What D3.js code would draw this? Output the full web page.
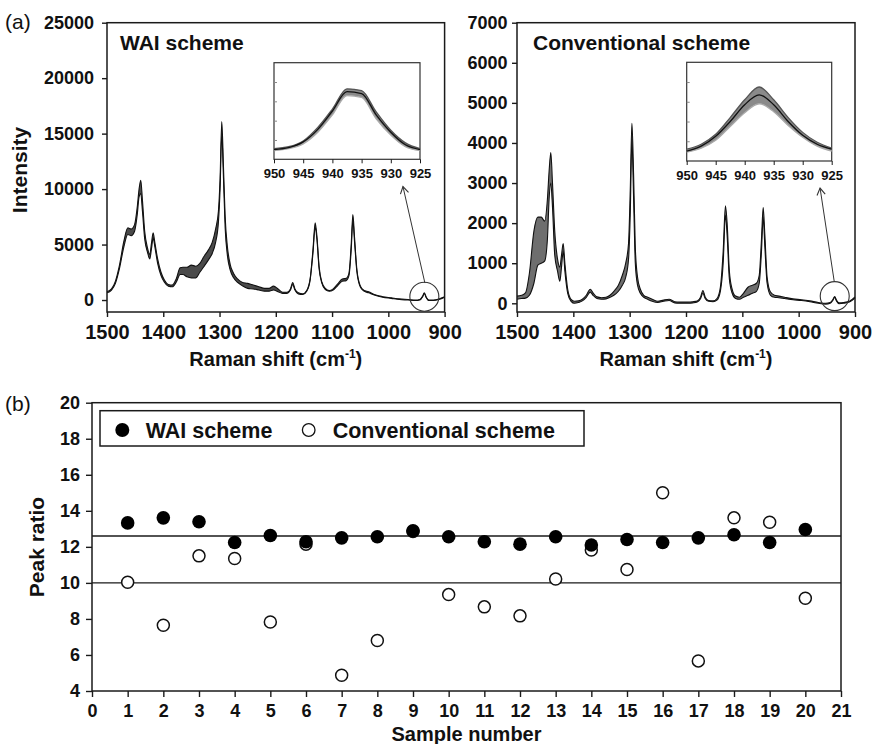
<!DOCTYPE html>
<html>
<head>
<meta charset="utf-8">
<script src="https://cdnjs.cloudflare.com/ajax/libs/d3/7.8.5/d3.min.js"></script>
<style>
  body { margin: 0; background: #fff; }
  svg text { font-family: "Liberation Sans", Arial, sans-serif; fill: #111; }
</style>
</head>
<body>
<script>
// Raman shift sample points (cm-1) shared by both spectrum panels
const shift = [
  1500,1492,1485,1478,1470,1463,1457,1451,1446,1443,
  1440,1437,1433,1428,1424,1421,1418,1415,1410,1404,
  1398,1391,1384,1377,1370,1365,1358,1350,1342,1335,
  1328,1320,1313,1307,1302,1299,1296,1293,1290,1286,
  1281,1275,1268,1260,1250,1240,1230,1220,1212,1204,
  1196,1188,1180,1174,1170,1166,1160,1152,1145,1139,
  1134,1130,1127,1123,1118,1112,1105,1098,1090,1082,
  1075,1070,1066,1063,1060,1056,1050,1043,1035,1025,
  1010,995,980,965,952,944,939,936,933,928,
  920,910,900
];

// WAI scheme: lower and upper edge of the bundle of spectra
const waiLow = [
  650,900,1500,2800,4800,5900,5800,6200,7800,9300,
  9600,8000,5500,4300,3700,4600,5600,4800,3300,2200,
  1600,1250,1200,1600,2300,2300,2100,2000,2000,2500,
  3000,3600,4200,5200,7000,10000,15000,11000,6500,4000,
  2700,2000,1600,1300,1050,1000,900,800,800,900,
  750,600,600,900,1400,900,550,500,800,1800,
  4200,6600,5500,2800,1500,950,800,900,1300,1700,
  1750,2200,4500,7200,5200,2600,1200,800,650,450,
  250,150,50,0,-50,0,300,600,250,-50,
  -50,50,250
];
const waiHigh = [
  750,1000,1700,3100,5300,6500,6400,6800,8500,10000,
  10800,9000,6200,4700,4100,5100,6050,5200,3700,2500,
  1800,1400,1350,1900,2900,2950,2950,3150,3050,3300,
  3900,4500,5200,6400,8000,11000,16100,12000,7500,4800,
  3200,2400,1900,1600,1500,1350,1200,1050,1050,1250,
  1000,700,700,1000,1580,1000,650,550,850,1900,
  4500,6950,5800,3000,1600,1050,850,1000,1450,1900,
  1950,2400,5000,7700,5600,2800,1300,850,750,500,
  300,200,100,50,0,50,350,650,300,0,
  0,100,300
];

// Conventional scheme: lower and upper edge of the bundle of spectra
const convLow = [
  100,120,130,200,500,950,1000,1050,1600,2600,
  3000,2400,1200,800,550,900,1300,800,250,50,
  0,20,60,150,280,200,120,100,110,150,
  200,300,450,650,1100,2200,4100,2600,1000,450,
  250,150,100,50,20,50,70,10,0,0,
  0,10,30,120,250,120,50,40,80,300,
  1000,2200,1700,600,250,120,100,150,200,250,
  300,500,1300,2150,1400,500,200,150,140,120,
  90,70,40,0,-20,0,80,150,60,-10,
  0,30,130
];
const convHigh = [
  180,200,260,750,1800,2150,2150,2050,2600,3300,
  3760,3000,1800,1100,900,1200,1490,1000,350,100,
  50,60,100,200,350,260,160,140,150,200,
  300,450,700,1000,1500,2800,4490,3200,1400,650,
  350,200,150,100,50,80,100,40,30,30,
  30,40,60,160,320,160,70,60,120,400,
  1300,2430,2000,800,350,180,150,250,400,450,
  500,700,1600,2390,1700,650,280,200,180,150,
  110,90,60,20,0,20,100,170,80,10,
  20,50,160
];

// insets: 950-925 cm-1 band (arbitrary units)
const insetShift = [950,947.5,945,942.5,940,937.5,935,932.5,930,927.5,925];
const waiInsetLow  = [9,11,16,28,46,66,64,42,25,13,9];
const waiInsetMid  = [10,12,18,31,50,70,68,46,28,15,10];
const waiInsetHigh = [11,13,19,33,52,73,71,49,30,17,11];
const convInsetLow  = [9,13,21,35,49,58,50,36,24,15,10];
const convInsetMid  = [10,15,25,40,57,67,57,40,26,17,12];
const convInsetHigh = [12,17,27,44,62,75,62,44,29,19,13];

const shiftTicks = [1500,1400,1300,1200,1100,1000,900];
const waiTicks = [0,5000,10000,15000,20000,25000];
const convTicks = [0,1000,2000,3000,4000,5000,6000,7000];
const insetTicks = [950,945,940,935,930,925];

// callouts: circled band and arrow (data coordinates of each panel)
const waiCallout = { at: [936, 300], from: [935, 1530], to: [974, 10230] };
const convCallout = { at: [936, 180], from: [937, 556], to: [962, 2875] };

// (b) peak ratios
const samples = [1,2,3,4,5,6,7,8,9,10,11,12,13,14,15,16,17,18,19,20];
const waiRatio = [13.33,13.61,13.39,12.24,12.63,12.28,12.5,12.56,12.89,12.56,
                  12.28,12.15,12.56,12.1,12.41,12.24,12.5,12.67,12.24,12.96];
const convRatio = [10.04,7.65,11.5,11.35,7.83,12.15,4.87,6.8,12.85,9.35,
                   8.67,8.17,10.22,11.82,10.74,15.0,5.67,13.61,13.37,9.15];
const refLines = [12.6, 10];
const sampleTicks = [0,1,2,3,4,5,6,7,8,9,10,11,12,13,14,15,16,17,18,19,20,21];
const ratioTicks = [4,6,8,10,12,14,16,18,20];

const svg = d3.select('body').append('svg')
  .attr('width', 872)
  .attr('height', 744);

const ink = '#1a1a1a';
const fmt = d3.format('d');

function frame(x, y) {
  const [x0, x1] = x.range();
  const [y0, y1] = y.range();
  svg.append('rect')
    .attr('x', Math.min(x0, x1)).attr('y', Math.min(y0, y1))
    .attr('width', Math.abs(x1 - x0)).attr('height', Math.abs(y1 - y0))
    .attr('fill', 'none').attr('stroke', ink).attr('stroke-width', 1.5);
}

function styleAxis(g, size) {
  g.select('.domain').remove();
  g.selectAll('.tick line').attr('stroke', ink).attr('stroke-width', 1.4);
  g.selectAll('.tick text')
    .style('font-size', size + 'px').style('font-weight', 'bold').attr('fill', '#111');
  return g;
}

function spectra(x, y, lo, hi, fill) {
  const rows = shift.map((w, i) => ({ w: w, lo: lo[i], hi: hi[i] }));
  svg.append('path').datum(rows)
    .attr('d', d3.area().x(d => x(d.w)).y0(d => y(d.lo)).y1(d => y(d.hi)).curve(d3.curveMonotoneX))
    .attr('fill', fill);
  ['lo', 'hi'].forEach(k => {
    svg.append('path').datum(rows)
      .attr('d', d3.line().x(d => x(d.w)).y(d => y(d[k])).curve(d3.curveMonotoneX))
      .attr('fill', 'none').attr('stroke', '#111').attr('stroke-width', 1.1);
  });
}

function inset(box, lo, mid, hi) {
  const x = d3.scaleLinear().domain([950, 925]).range([box[0], box[1]]);
  const y = d3.scaleLinear().domain([0, 100]).range([box[3], box[2]]);
  svg.append('rect')
    .attr('x', box[0]).attr('y', box[2])
    .attr('width', box[1] - box[0]).attr('height', box[3] - box[2])
    .attr('fill', '#fff').attr('stroke', '#333').attr('stroke-width', 1.2);
  const rows = insetShift.map((w, i) => ({ w: w, lo: lo[i], mid: mid[i], hi: hi[i] }));
  svg.append('path').datum(rows)
    .attr('d', d3.area().x(d => x(d.w)).y0(d => y(d.lo)).y1(d => y(d.hi)).curve(d3.curveMonotoneX))
    .attr('fill', '#8a8a8a');
  [['lo', '#aaa'], ['hi', '#555'], ['mid', '#111']].forEach(([k, c]) => {
    svg.append('path').datum(rows)
      .attr('d', d3.line().x(d => x(d.w)).y(d => y(d[k])).curve(d3.curveMonotoneX))
      .attr('fill', 'none').attr('stroke', c).attr('stroke-width', 1.3);
  });
  const ax = svg.append('g').attr('transform', `translate(0,${box[3]})`)
    .call(d3.axisBottom(x).tickValues(insetTicks).tickSize(4).tickFormat(fmt));
  styleAxis(ax, 13);
  ax.selectAll('.tick line').attr('stroke-width', 1);
  ax.selectAll('.tick text').attr('dy', 0).attr('y', 19);
  const ay = svg.append('g').attr('transform', `translate(${box[0]},0)`)
    .call(d3.axisRight(y).tickValues([20, 40, 60, 80]).tickSize(3).tickFormat(''));
  ay.select('.domain').remove();
  ay.selectAll('.tick line').attr('stroke', '#888');
}

function callout(x, y, c) {
  svg.append('circle')
    .attr('cx', x(c.at[0])).attr('cy', y(c.at[1])).attr('r', 14.5)
    .attr('fill', 'none').attr('stroke', '#333').attr('stroke-width', 1.1);
  const x1 = x(c.from[0]), y1 = y(c.from[1]), x2 = x(c.to[0]), y2 = y(c.to[1]);
  svg.append('line')
    .attr('x1', x1).attr('y1', y1).attr('x2', x2).attr('y2', y2)
    .attr('stroke', '#333').attr('stroke-width', 1);
  const a = Math.atan2(y2 - y1, x2 - x1);
  const head = [a + 2.6, a - 2.6].map(t => [x2 + 8 * Math.cos(t), y2 + 8 * Math.sin(t)]);
  svg.append('path')
    .attr('d', `M${head[0]}L${x2},${y2}L${head[1]}`)
    .attr('fill', 'none').attr('stroke', '#333').attr('stroke-width', 1.1);
}

function ramanTitle(cx) {
  const t = svg.append('text').attr('x', cx).attr('y', 366)
    .attr('text-anchor', 'middle').style('font-size', '20px').style('font-weight', 'bold');
  t.append('tspan').text('Raman shift (cm');
  t.append('tspan').attr('dy', -8).style('font-size', '12px').text('-1');
  t.append('tspan').attr('dy', 8).text(')');
}

// ---- (a) left: WAI scheme
const xL = d3.scaleLinear().domain([1500, 900]).range([107, 444.6]);
const yL = d3.scaleLinear().domain([-1080, 25000]).range([312, 22.7]);
spectra(xL, yL, waiLow, waiHigh, '#4a4a4a');
frame(xL, yL);
const axL = styleAxis(svg.append('g').attr('transform', 'translate(0,312)')
  .call(d3.axisBottom(xL).tickValues(shiftTicks).tickSize(5).tickFormat(fmt)), 20);
axL.selectAll('.tick text').attr('dy', 0).attr('y', 27);
styleAxis(svg.append('g').attr('transform', 'translate(107,0)')
  .call(d3.axisLeft(yL).tickValues(waiTicks).tickSize(5).tickPadding(8).tickFormat(fmt)), 18);
inset([274, 420, 62.7, 159.3], waiInsetLow, waiInsetMid, waiInsetHigh);
callout(xL, yL, waiCallout);

svg.append('text').attr('x', 120).attr('y', 50)
  .style('font-size', '21px').style('font-weight', 'bold').text('WAI scheme');
svg.append('text').attr('x', 5).attr('y', 29).style('font-size', '21px').text('(a)');
svg.append('text').attr('transform', 'translate(27,170) rotate(-90)')
  .attr('text-anchor', 'middle').style('font-size', '21px').style('font-weight', 'bold').text('Intensity');
ramanTitle(275.8);

// ---- (a) right: conventional scheme
const xR = d3.scaleLinear().domain([1500, 900]).range([517, 855]);
const yR = d3.scaleLinear().domain([-217, 7000]).range([312, 22.7]);
spectra(xR, yR, convLow, convHigh, '#6e6e6e');
frame(xR, yR);
const axR = styleAxis(svg.append('g').attr('transform', 'translate(0,312)')
  .call(d3.axisBottom(xR).tickValues(shiftTicks).tickSize(5).tickFormat(fmt)), 20);
axR.selectAll('.tick text').attr('dy', 0).attr('y', 27);
styleAxis(svg.append('g').attr('transform', 'translate(517,0)')
  .call(d3.axisLeft(yR).tickValues(convTicks).tickSize(5).tickPadding(4.5).tickFormat(fmt)), 18);
inset([686.7, 831.7, 62.3, 161], convInsetLow, convInsetMid, convInsetHigh);
callout(xR, yR, convCallout);

svg.append('text').attr('x', 533).attr('y', 50)
  .style('font-size', '21px').style('font-weight', 'bold').text('Conventional scheme');
ramanTitle(686);

// ---- (b) peak ratio
const xB = d3.scaleLinear().domain([0, 21]).range([92, 841]);
const yB = d3.scaleLinear().domain([4, 20]).range([691, 402.7]);
frame(xB, yB);
svg.selectAll('.ref').data(refLines).enter().append('line')
  .attr('x1', xB(0)).attr('x2', xB(21))
  .attr('y1', d => yB(d)).attr('y2', d => yB(d))
  .attr('stroke', ink).attr('stroke-width', 1.4);

const axB = styleAxis(svg.append('g').attr('transform', 'translate(0,691)')
  .call(d3.axisBottom(xB).tickValues(sampleTicks).tickSize(6).tickFormat(fmt)), 18);
axB.selectAll('.tick text').attr('dy', 0).attr('y', 26);
styleAxis(svg.append('g').attr('transform', 'translate(92,0)')
  .call(d3.axisLeft(yB).tickValues(ratioTicks).tickSize(6).tickPadding(6).tickFormat(fmt)), 18);

svg.selectAll('.conv').data(samples).enter().append('circle')
  .attr('cx', d => xB(d)).attr('cy', (d, i) => yB(convRatio[i])).attr('r', 6)
  .attr('fill', '#fff').attr('stroke', '#111').attr('stroke-width', 1.5);
svg.selectAll('.wai').data(samples).enter().append('circle')
  .attr('cx', d => xB(d)).attr('cy', (d, i) => yB(waiRatio[i])).attr('r', 6.8)
  .attr('fill', '#000');

// legend
svg.append('rect').attr('x', 100).attr('y', 410.7).attr('width', 484).attr('height', 35.3)
  .attr('fill', '#fff').attr('stroke', ink).attr('stroke-width', 1.5);
svg.append('circle').attr('cx', 122.3).attr('cy', 430).attr('r', 7).attr('fill', '#000');
svg.append('text').attr('x', 145.7).attr('y', 438)
  .style('font-size', '21.5px').style('font-weight', 'bold').text('WAI scheme');
svg.append('circle').attr('cx', 308.7).attr('cy', 430).attr('r', 6.3)
  .attr('fill', '#fff').attr('stroke', '#111').attr('stroke-width', 1.3);
svg.append('text').attr('x', 332.7).attr('y', 438)
  .style('font-size', '21.5px').style('font-weight', 'bold').text('Conventional scheme');

svg.append('text').attr('x', 5).attr('y', 411).style('font-size', '21px').text('(b)');
svg.append('text').attr('transform', 'translate(44,547) rotate(-90)')
  .attr('text-anchor', 'middle').style('font-size', '21px').style('font-weight', 'bold').text('Peak ratio');
svg.append('text').attr('x', 466.5).attr('y', 741)
  .attr('text-anchor', 'middle').style('font-size', '20px').style('font-weight', 'bold').text('Sample number');
</script>
</body>
</html>
